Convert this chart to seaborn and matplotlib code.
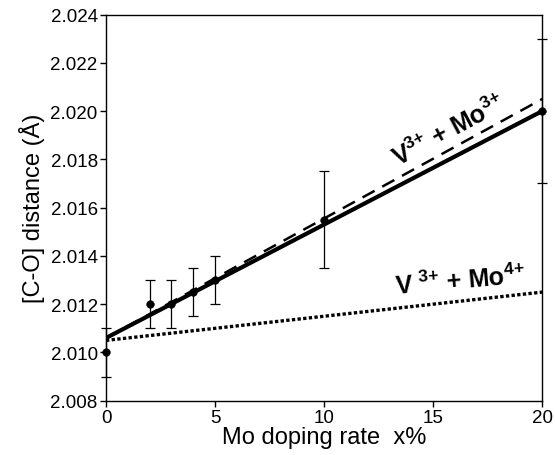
import numpy as np
import pandas as pd
import seaborn as sns
import matplotlib.pyplot as plt

# measured points (Mo doping rate x% vs [C-O] distance)
doping = [0, 2, 3, 4, 5, 10, 20]
distance = [2.010, 2.012, 2.012, 2.0125, 2.013, 2.0155, 2.020]
dist_err = [0.001, 0.001, 0.001, 0.001, 0.001, 0.002, 0.003]

# fitted / model lines
line_x = [0, 20]
fit_line = [2.0106, 2.0200]
mo3_line = [2.0106, 2.0205]
mo4_line = [2.0105, 2.0125]

sns.set_style("ticks")
plt.rcParams["font.family"] = ["Liberation Sans", "DejaVu Sans"]
plt.rcParams["mathtext.default"] = "regular"
plt.rcParams["text.color"] = "black"
plt.rcParams["axes.labelcolor"] = "black"

fig = plt.figure(figsize=(5.55, 4.56), dpi=100)
ax = fig.add_axes([0.191, 0.119, 0.786, 0.847])

lines = pd.DataFrame({"x": line_x, "fit": fit_line, "mo3": mo3_line, "mo4": mo4_line})

sns.lineplot(data=lines, x="x", y="mo4", ax=ax, color="black", lw=2.4,
             linestyle=(0, (1, 0.7)))
sns.lineplot(data=lines, x="x", y="mo3", ax=ax, color="black", lw=1.8,
             linestyle=(0, (5.5, 3.5)))
sns.lineplot(data=lines, x="x", y="fit", ax=ax, color="black", lw=3.0)

ax.errorbar(doping, distance, yerr=dist_err, fmt="none", ecolor="black",
            elinewidth=0.9, capsize=3.5, capthick=0.9, clip_on=False, zorder=4)
sns.scatterplot(x=doping, y=distance, ax=ax, color="black", s=30,
                edgecolor="black", zorder=5, clip_on=False)

ax.text(15.7, 2.0192, "V$^{3{+}}$ + Mo$^{3{+}}$", fontsize=18, fontweight="bold",
        rotation=28, ha="center", va="center", rotation_mode="anchor")
ax.text(16.25, 2.0130, "V $^{3{+}}$ + Mo$^{4{+}}$", fontsize=18, fontweight="bold",
        rotation=5, ha="center", va="center", rotation_mode="anchor")

ax.set_xlim(0, 20)
ax.set_ylim(2.008, 2.024)
ax.set_xticks([0, 5, 10, 15, 20])
ax.set_yticks(np.arange(2.008, 2.0241, 0.002))
ax.set_yticklabels([f"{v:.3f}" for v in np.arange(2.008, 2.0241, 0.002)])
ax.tick_params(axis="both", direction="out", length=4, width=1, labelsize=13.5,
               colors="black", pad=2)
for side in ["top", "right", "left", "bottom"]:
    ax.spines[side].set_visible(True)
    ax.spines[side].set_linewidth(1.0)
    ax.spines[side].set_color("black")

ax.set_xlabel("Mo doping rate  x%", fontsize=17, labelpad=0)
ax.set_ylabel("[C-O] distance (Å)", fontsize=17, labelpad=4)

fig.savefig("out.png", dpi=100)
